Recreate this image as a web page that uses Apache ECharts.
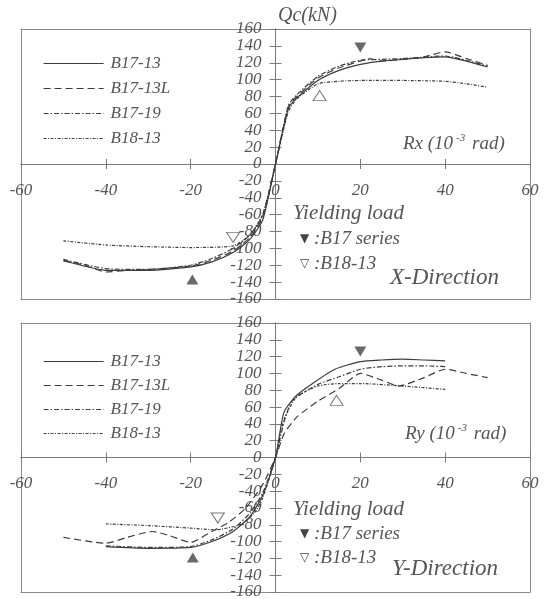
<!DOCTYPE html>
<html><head><meta charset="utf-8">
<script src="https://cdn.jsdelivr.net/npm/echarts@6/dist/echarts.min.js"></script>
<style>html,body{margin:0;padding:0;background:#fff}#c{width:549px;height:599px}</style>
</head><body><div id="c"></div>
<script>
// ---------- data ----------
const seriesNames = ['B17-13', 'B17-13L', 'B17-19', 'B18-13'];
const xRange = [-60, 60];      // rotation, 10^-3 rad, ticks every 20
const yRange = [-160, 160];    // Qc (kN), ticks every 20

// X-Direction panel
const xB1713 = [[-50,-115],[-45,-121],[-40,-126],[-30,-126],[-20,-122],[-15,-116],[-10,-105],[-6,-89],[-3,-66],[0,0],[3,65],[5,78],[10,99],[15,111],[20,118],[25,122],[30,124],[35,126],[40,127],[45,122],[50,115]];
const xB1713L = [[-50,-114],[-45,-120],[-40,-128],[-35,-126],[-30,-125],[-20,-121],[-15,-114],[-10,-103],[-6,-87],[-3,-63],[0,0],[3,67],[5,80],[10,102],[15,114],[20,122],[22,125],[25,122],[30,124],[35,127],[40,133],[45,125],[50,117]];
const xB1719 = [[-50,-113],[-40,-124],[-30,-125],[-20,-120],[-15,-112],[-10,-100],[-6,-84],[-3,-60],[0,0],[3,69],[5,82],[10,104],[15,116],[20,123],[25,124],[30,125],[40,128],[45,123],[50,116]];
const xB1813 = [[-50,-91],[-40,-96],[-30,-98],[-20,-99],[-10,-97],[-6,-84],[-3,-60],[0,0],[3,62],[5,77],[10,95],[15,98],[20,99],[30,99],[40,98],[45,95],[50,91]];
const xYieldB17 = [[20,138],[-19.6,-137]];
const xYieldB18 = [[10.4,81],[-10,-87]];

// Y-Direction panel
const yB1713 = [[-40,-106],[-30,-108],[-20,-107],[-15,-100],[-10,-88],[-6,-70],[-3,-45],[0,0],[2,54],[5,74],[9,89],[14,105],[20,114],[25,116],[30,117],[35,116],[40,115]];
const yB1713L = [[-50,-95],[-40,-102],[-35,-95],[-29,-88],[-25,-93],[-20,-101],[-15,-88],[-11,-77],[-7,-60],[-3,-32],[0,0],[2,28],[5,48],[10,67],[15,82],[20,100],[25,92],[29,85],[35,95],[40,105],[45,100],[50,95]];
const yB1719 = [[-40,-105],[-30,-107],[-20,-106],[-15,-98],[-10,-85],[-6,-66],[-3,-42],[0,0],[2,42],[4,68],[10,87],[15,96],[20,105],[25,108],[30,109],[35,109],[40,108]];
const yB1813 = [[-40,-79],[-30,-81],[-20,-84],[-14,-86],[-8,-79],[-5,-66],[-3,-48],[0,0],[2,45],[5,72],[10,85],[15,88],[20,88],[30,85],[40,81]];
const yYieldB17 = [[20,126],[-19.5,-119]];
const yYieldB18 = [[14.4,68],[-13.6,-72]];

// ---------- styling ----------
const FONT = "'Liberation Serif', 'DejaVu Serif', serif";
const TXT = '#555';
const LINE = '#3c3c3c';
const AX = '#7a7a7a';
const dashTypes = ['solid', [7,4], [5,2,1.5,2], [3,1.5,1,1.5]];

const W = 549;
const gridRects = [
  {left: 21, right: 19, top: 29, height: 270},
  {left: 21, right: 19, top: 323, height: 269}
];
const grids = [], xAxes = [], yAxes = [];
const labelFont = {color: TXT, fontFamily: FONT, fontStyle: 'italic', fontSize: 17};
gridRects.forEach((r, gi) => {
  grids.push(Object.assign({show: false, outerBoundsMode: 'none', containLabel: false}, r));
  const gw = W - r.left - r.right;
  const xOff = -r.height / 2;   // puts x axis on the zero line (range symmetric)
  const yOff = -gw / 2;         // puts y axis on the zero line
  const baseX = {type: 'value', gridIndex: gi, min: xRange[0], max: xRange[1], interval: 20, splitLine: {show: false}};
  const baseY = {type: 'value', gridIndex: gi, min: yRange[0], max: yRange[1], interval: 20, splitLine: {show: false}};
  xAxes.push(Object.assign({}, baseX, {position: 'bottom', offset: xOff,
    axisLine: {onZero: false, lineStyle: {color: AX}},
    axisTick: {inside: true, length: 5, lineStyle: {color: AX}},
    axisLabel: Object.assign({show: true, margin: 18}, labelFont)}));
  xAxes.push(Object.assign({}, baseX, {position: 'bottom', offset: xOff,
    axisLine: {onZero: false, lineStyle: {color: AX}},
    axisTick: {inside: false, length: 5, lineStyle: {color: AX}},
    axisLabel: {show: false}}));
  ['bottom', 'top'].forEach(pos => xAxes.push(Object.assign({}, baseX, {position: pos, offset: 0,
    axisLine: {onZero: false, lineStyle: {color: '#8a8a8a'}}, axisTick: {show: false}, axisLabel: {show: false}})));
  yAxes.push(Object.assign({}, baseY, {position: 'left', offset: yOff,
    axisLine: {onZero: false, lineStyle: {color: AX}},
    axisTick: {inside: true, length: 6, lineStyle: {color: AX}},
    axisLabel: Object.assign({show: true, margin: 14}, labelFont)}));
  yAxes.push(Object.assign({}, baseY, {position: 'left', offset: yOff,
    axisLine: {onZero: false, lineStyle: {color: AX}},
    axisTick: {inside: false, length: 6, lineStyle: {color: AX}},
    axisLabel: {show: false}}));
  ['left', 'right'].forEach(pos => yAxes.push(Object.assign({}, baseY, {position: pos, offset: 0,
    axisLine: {onZero: false, lineStyle: {color: '#8a8a8a'}}, axisTick: {show: false}, axisLabel: {show: false}})));
});

const panels = [
  {axis: 0, curves: [xB1713, xB1713L, xB1719, xB1813], y17: xYieldB17, y18: xYieldB18},
  {axis: 4, curves: [yB1713, yB1713L, yB1719, yB1813], y17: yYieldB17, y18: yYieldB18}
];
const series = [];
panels.forEach(p => {
  p.curves.forEach((d, i) => {
    series.push({
      name: seriesNames[i], type: 'line', xAxisIndex: p.axis, yAxisIndex: p.axis,
      data: d, symbol: 'none', showSymbol: false, smooth: 0.2,
      lineStyle: {color: LINE, width: 1.2, type: dashTypes[i]},
      itemStyle: {color: LINE}, silent: true, animation: false
    });
  });
  series.push({
    name: 'yield17', type: 'scatter', xAxisIndex: p.axis, yAxisIndex: p.axis,
    data: p.y17.map(v => ({value: v, symbolRotate: v[1] > 0 ? 180 : 0})),
    symbol: 'triangle', symbolSize: [12, 10],
    itemStyle: {color: '#444'}, silent: true, animation: false, z: 5
  });
  series.push({
    name: 'yield18', type: 'scatter', xAxisIndex: p.axis, yAxisIndex: p.axis,
    data: p.y18.map(v => ({value: v, symbolRotate: v[1] > 0 ? 0 : 180})),
    symbol: 'triangle', symbolSize: [13, 10],
    itemStyle: {color: '#fff', borderColor: '#555', borderWidth: 1}, silent: true, animation: false, z: 5
  });
});

const legendBase = {
  data: seriesNames, orient: 'vertical', left: 43, itemWidth: 60, itemHeight: 14,
  padding: 0, selectedMode: false,
  itemStyle: {color: 'rgba(0,0,0,0)', borderWidth: 0, opacity: 0},
  lineStyle: {width: 1.2},
  textStyle: {color: TXT, fontFamily: FONT, fontStyle: 'italic', fontSize: 17, padding: [0,0,0,2]}
};
const legends = [
  Object.assign({}, legendBase, {top: 55, itemGap: 8}),
  Object.assign({}, legendBase, {top: 353, itemGap: 7})
];

const txt = (x, y, text, size) => ({
  type: 'text', left: x, top: y - size * 0.6, silent: true,
  style: {text: text, fill: TXT, font: `italic ${size}px ${FONT}`}
});
const rich = {
  a: {fontSize: 19, fontFamily: FONT, fontStyle: 'italic', fill: TXT, color: TXT},
  s: {fontSize: 11, fontFamily: FONT, fontStyle: 'italic', fill: TXT, color: TXT, verticalAlign: 'top', padding: [0, 2, 10, 3]},
  t: {fontSize: 12, fontFamily: 'DejaVu Sans', fill: '#444', color: '#444'},
  b: {fontSize: 19, fontFamily: FONT, fontStyle: 'italic', fill: TXT, color: TXT}
};
const graphics = [
  txt(278, 18, 'Qc(kN)', 20),
  {type: 'text', left: 403, top: 133, silent: true, style: {text: '{a|Rx (10}{s|-3}{a| rad)}', rich: rich}},
  txt(293, 216, 'Yielding load', 21),
  {type: 'text', left: 300, top: 229, silent: true, style: {text: '{t|▼}{b| :B17 series}', rich: rich}},
  {type: 'text', left: 300, top: 254, silent: true, style: {text: '{t|▽}{b| :B18-13}', rich: rich}},
  txt(390, 280, 'X-Direction', 23),
  {type: 'text', left: 405, top: 423, silent: true, style: {text: '{a|Ry (10}{s|-3}{a| rad)}', rich: rich}},
  txt(293, 512, 'Yielding load', 21),
  {type: 'text', left: 300, top: 524, silent: true, style: {text: '{t|▼}{b| :B17 series}', rich: rich}},
  {type: 'text', left: 300, top: 548, silent: true, style: {text: '{t|▽}{b| :B18-13}', rich: rich}},
  txt(392, 571, 'Y-Direction', 23)
];

const chart = echarts.init(document.getElementById('c'), null, {renderer: 'canvas'});
chart.setOption({
  backgroundColor: '#fff',
  animation: false,
  grid: grids, xAxis: xAxes, yAxis: yAxes,
  legend: legends,
  series: series,
  graphic: graphics
});
</script>
</body></html>
